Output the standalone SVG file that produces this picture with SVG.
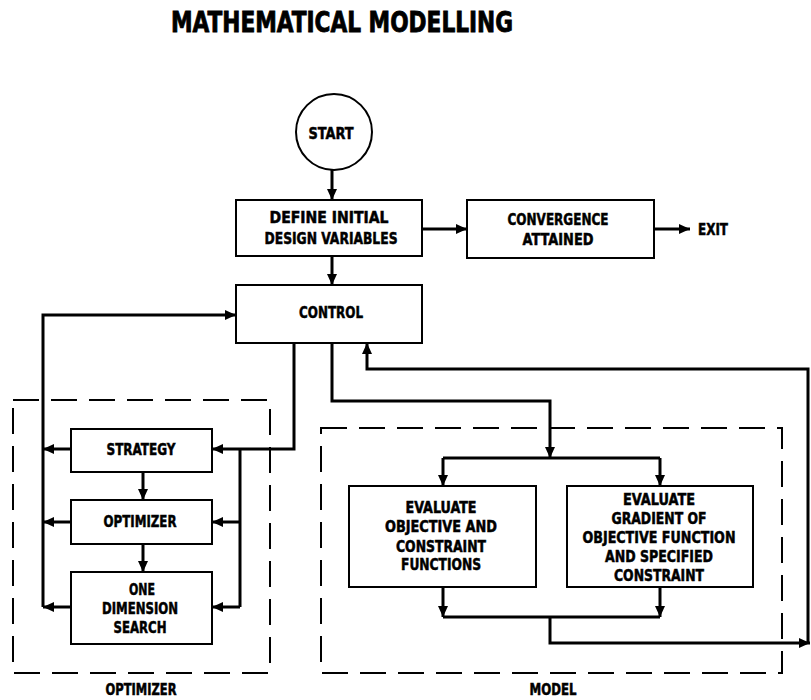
<svg xmlns="http://www.w3.org/2000/svg" width="811" height="700" viewBox="0 0 811 700">
<defs>
<marker id="ah" markerUnits="userSpaceOnUse" markerWidth="12" markerHeight="10" refX="11" refY="5" orient="auto">
<path d="M0,0 L11,5 L0,10 z" fill="#000"/>
</marker>
<style>
.box{fill:#fff;stroke:#000;stroke-width:2}
.grp{fill:none;stroke:#000;stroke-width:2;stroke-dasharray:26 12}
.t{font-family:"Liberation Sans Narrow","DejaVu Sans Condensed","Liberation Sans",sans-serif;font-weight:bold;font-size:16px;fill:#000;stroke:#000;stroke-width:0.5;text-anchor:middle}
.c{fill:none;stroke:#000;stroke-width:3;stroke-linejoin:miter}
.a{marker-end:url(#ah)}
</style>
</defs>
<rect width="811" height="700" fill="#fff"/>
<text class="t" x="342" y="32" style="font-size:28px;stroke-width:0.8" textLength="342" lengthAdjust="spacingAndGlyphs">MATHEMATICAL MODELLING</text>

<g id="optimizer-group"><rect class="grp" x="13" y="400" width="257" height="273"/><text class="t" x="141" y="695" style="font-size:15px" textLength="71" lengthAdjust="spacingAndGlyphs">OPTIMIZER</text></g>
<g id="model-group"><rect class="grp" x="321" y="428" width="461" height="245"/><text class="t" x="553" y="695" style="font-size:15px" textLength="47" lengthAdjust="spacingAndGlyphs">MODEL</text></g>

<g id="connectors">
<path class="c a" d="M332 170 V200"/>
<path class="c a" d="M422 229 H467"/>
<path class="c a" d="M654 229 H690"/>
<path class="c a" d="M332 256 V285"/>
<path class="c a" d="M43 607 V315 H236"/>
<path class="c a" d="M71 449 H43"/>
<path class="c a" d="M71 522 H43"/>
<path class="c a" d="M71 607 H43"/>
<path class="c a" d="M294 343 V449 H212"/>
<path class="c" d="M240 449 V607"/>
<path class="c a" d="M240 522 H212"/>
<path class="c a" d="M240 607 H212"/>
<path class="c a" d="M143 472 V500"/>
<path class="c a" d="M143 544 V572"/>
<path class="c a" d="M332 343 V401 H550 V458"/>
<path class="c" d="M443 458 H660"/>
<path class="c a" d="M443 458 V486"/>
<path class="c a" d="M660 458 V486"/>
<path class="c a" d="M443 587 V617"/>
<path class="c a" d="M660 587 V617"/>
<path class="c" d="M443 617 H660"/>
<path class="c a" d="M550 617 V643 H810"/>
<path class="c a" d="M808 643 V369 H367 V343"/>
</g>

<g id="start"><circle cx="334" cy="132" r="38" class="box"/><text class="t" x="331" y="139" textLength="45" lengthAdjust="spacingAndGlyphs">START</text></g>
<g id="define"><rect class="box" x="236" y="200" width="186" height="56"/><text class="t" x="329" y="223" textLength="119" lengthAdjust="spacingAndGlyphs">DEFINE INITIAL</text><text class="t" x="331" y="244" textLength="133" lengthAdjust="spacingAndGlyphs">DESIGN VARIABLES</text></g>
<g id="convergence"><rect class="box" x="467" y="200" width="187" height="58"/><text class="t" x="558" y="225" textLength="101" lengthAdjust="spacingAndGlyphs">CONVERGENCE</text><text class="t" x="558" y="245" textLength="71" lengthAdjust="spacingAndGlyphs">ATTAINED</text></g>
<g id="exit"><text class="t" x="713" y="235" textLength="30" lengthAdjust="spacingAndGlyphs">EXIT</text></g>
<g id="control"><rect class="box" x="236" y="285" width="186" height="58"/><text class="t" x="331" y="318" textLength="64" lengthAdjust="spacingAndGlyphs">CONTROL</text></g>
<g id="strategy"><rect class="box" x="71" y="429" width="141" height="43"/><text class="t" x="141" y="455" textLength="69" lengthAdjust="spacingAndGlyphs">STRATEGY</text></g>
<g id="optimizer"><rect class="box" x="71" y="500" width="141" height="44"/><text class="t" x="140" y="527" textLength="73" lengthAdjust="spacingAndGlyphs">OPTIMIZER</text></g>
<g id="one-dimension-search"><rect class="box" x="71" y="572" width="141" height="72"/><text class="t" x="142" y="595" textLength="26" lengthAdjust="spacingAndGlyphs">ONE</text><text class="t" x="140" y="614" textLength="76" lengthAdjust="spacingAndGlyphs">DIMENSION</text><text class="t" x="140" y="633" textLength="53" lengthAdjust="spacingAndGlyphs">SEARCH</text></g>
<g id="evaluate-objective"><rect class="box" x="349" y="486" width="187" height="101"/><text class="t" x="441" y="513" textLength="71" lengthAdjust="spacingAndGlyphs">EVALUATE</text><text class="t" x="441" y="532" textLength="112" lengthAdjust="spacingAndGlyphs">OBJECTIVE AND</text><text class="t" x="441" y="552" textLength="90" lengthAdjust="spacingAndGlyphs">CONSTRAINT</text><text class="t" x="441" y="570" textLength="80" lengthAdjust="spacingAndGlyphs">FUNCTIONS</text></g>
<g id="evaluate-gradient"><rect class="box" x="567" y="486" width="186" height="101"/><text class="t" x="659" y="505" textLength="72" lengthAdjust="spacingAndGlyphs">EVALUATE</text><text class="t" x="659" y="524" textLength="95" lengthAdjust="spacingAndGlyphs">GRADIENT OF</text><text class="t" x="659" y="543" textLength="153" lengthAdjust="spacingAndGlyphs">OBJECTIVE FUNCTION</text><text class="t" x="659" y="562" textLength="108" lengthAdjust="spacingAndGlyphs">AND SPECIFIED</text><text class="t" x="659" y="581" textLength="90" lengthAdjust="spacingAndGlyphs">CONSTRAINT</text></g>
</svg>
